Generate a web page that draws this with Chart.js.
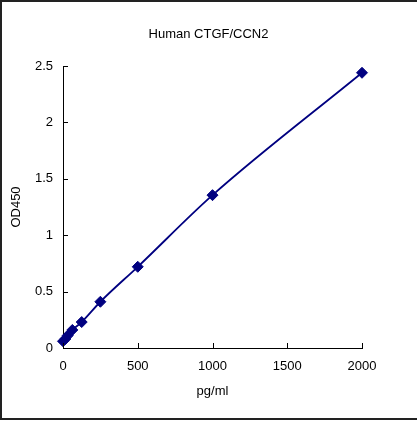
<!DOCTYPE html>
<html>
<head>
<meta charset="utf-8">
<script src="https://cdn.jsdelivr.net/npm/chart.js@4"></script>
<style>
html,body{margin:0;padding:0;background:#fff;}
#wrap{width:417px;height:421px;position:relative;}
</style>
</head>
<body>
<div id="wrap"><canvas id="c"></canvas></div>
<script>
const concentrations = [0, 15.6, 31.25, 62.5, 125, 250, 500, 1000, 2000];
const od450 = [0.06, 0.08, 0.11, 0.16, 0.23, 0.41, 0.72, 1.355, 2.44];
const xTicks = [0, 500, 1000, 1500, 2000];
const yTicks = [0, 0.5, 1, 1.5, 2, 2.5];
const titleText = 'Human CTGF/CCN2';
const xTitle = 'pg/ml';
const yTitle = 'OD450';

const FONT = {family: 'Liberation Sans, Arial, sans-serif', size: 13};

const innerTicks = {
  id: 'innerTicks',
  afterDraw(chart) {
    const ctx = chart.ctx;
    const xs = chart.scales.x, ys = chart.scales.y;
    const a = chart.chartArea;
    ctx.save();
    ctx.strokeStyle = '#000';
    ctx.lineWidth = 1;
    ctx.beginPath();
    xTicks.forEach(v => {
      const px = Math.round(xs.getPixelForValue(v)) + 0.5;
      ctx.moveTo(px, a.bottom);
      ctx.lineTo(px, a.bottom - 5);
    });
    yTicks.forEach(v => {
      const py = Math.round(ys.getPixelForValue(v)) + 0.5;
      ctx.moveTo(a.left, py);
      ctx.lineTo(a.left + 5, py);
    });
    ctx.stroke();
    // outer frame
    ctx.fillStyle = '#222';
    ctx.fillRect(0, 0, 417, 2);
    ctx.fillRect(0, 0, 2, 420);
    ctx.fillRect(0, 418, 417, 2);
    ctx.restore();
  }
};

new Chart(document.getElementById('c'), {
  type: 'line',
  data: {
    datasets: [{
      data: concentrations.map((x, i) => ({x: x, y: od450[i]})),
      borderColor: '#000080',
      backgroundColor: '#000080',
      borderWidth: 1.8,
      pointStyle: 'rectRot',
      pointRadius: 5.5,
      pointBorderWidth: 1,
      pointBorderColor: '#000080',
      cubicInterpolationMode: 'monotone',
      fill: false,
      clip: false
    }]
  },
  options: {
    responsive: true,
    maintainAspectRatio: false,
    animation: false,
    devicePixelRatio: 1,
    layout: {padding: 0},
    plugins: {
      legend: {display: false},
      tooltip: {enabled: false},
      title: {
        display: true,
        text: titleText,
        color: '#000',
        font: {family: FONT.family, size: 13, weight: 'normal'},
        padding: {top: 27, bottom: 23.4}
      }
    },
    scales: {
      x: {
        type: 'linear',
        min: 0, max: 2000,
        afterBuildTicks: s => { s.ticks = xTicks.map(v => ({value: v})); },
        afterFit: s => { s.height = 73; },
        grid: {display: false, drawTicks: false},
        border: {display: true, color: '#000', width: 1},
        ticks: {color: '#000', font: FONT, padding: 11, maxRotation: 0, callback: v => String(v)},
        title: {display: true, text: xTitle, color: '#000', font: FONT, padding: {top: 0, bottom: 21.5}}
      },
      y: {
        type: 'linear',
        min: 0, max: 2.5,
        afterBuildTicks: s => { s.ticks = yTicks.map(v => ({value: v})); },
        afterFit: s => { s.width = 63; },
        grid: {display: false, drawTicks: false},
        border: {display: true, color: '#000', width: 1},
        ticks: {color: '#000', font: FONT, padding: 10, callback: v => String(v)},
        title: {display: true, text: yTitle, color: '#000', font: FONT, padding: {top: 9, bottom: 0}}
      },
      spacer: {
        type: 'linear',
        position: 'right',
        display: true,
        min: 0, max: 1,
        afterFit: s => { s.width = 55; },
        grid: {display: false, drawTicks: false},
        border: {display: false},
        ticks: {display: false}
      }
    }
  },
  plugins: [innerTicks]
});
</script>
</body>
</html>
